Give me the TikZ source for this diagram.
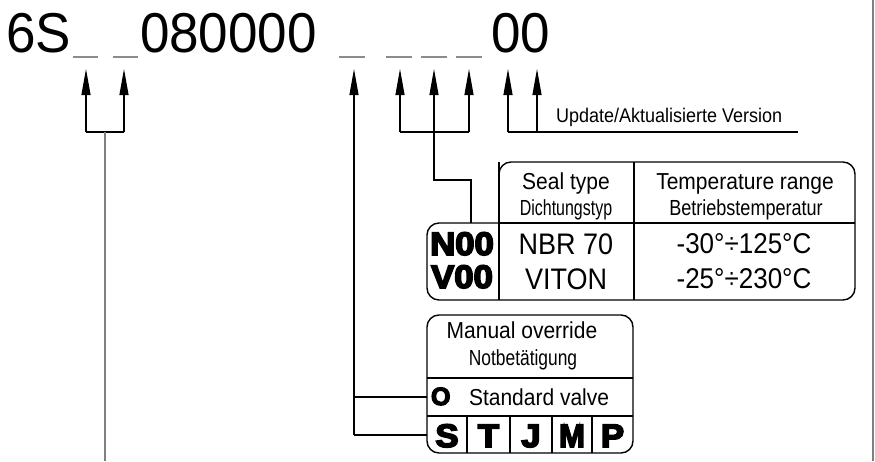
\documentclass[tikz,border=0pt]{standalone}
\usepackage{graphicx}
\usepackage{fontspec}
\setmainfont{Liberation Sans}
\newfontfamily\heavy[FakeBold=5]{Liberation Sans Bold}
\usetikzlibrary{arrows.meta}
\newcommand\fsz[1]{\fontsize{#1}{#1}\selectfont}
\newcommand\nscale[2]{\scalebox{#1}[1.15]{#2}}
\newcommand\vst[1]{\scalebox{1}[1.1]{#1}}
\begin{document}
\begin{tikzpicture}[x=1pt,y=-1pt,
  txt/.style={inner sep=0pt, outer sep=0pt, anchor=base},
  txtw/.style={inner sep=0pt, outer sep=0pt, anchor=base west},
  uline/.style={draw=gray!90, line width=2.2pt},
  gline/.style={draw=gray, line width=1.6pt},
  conn/.style={draw=black, line width=1.1pt},
  arr/.style={draw=black, line width=1.1pt, -{Triangle[length=26pt,width=9pt]}},
  boxline/.style={draw=black, line width=1.4pt, line join=round}]
\useasboundingbox (0,0) rectangle (875,461);
\fill[white] (0,0) rectangle (875,461);

% ---- top code text ----
\node[txtw] (p6s) at (6,52) {\fsz{53}\scalebox{1}[1.06]{6S}};
\node[txtw] (p08) at (140,52) {\fsz{53}\scalebox{1}[1.06]{080000}};
\node[txtw] (p00) at (491,52) {\fsz{53}\scalebox{1}[1.06]{00}};

% underscore marks
\coordinate (u1a) at (73,57);  \coordinate (u1b) at (98,57);
\coordinate (u2a) at (113,57); \coordinate (u2b) at (138,57);
\coordinate (u3a) at (339,57); \coordinate (u3b) at (365,57);
\coordinate (u4a) at (386,57); \coordinate (u4b) at (412,57);
\coordinate (u5a) at (421,57); \coordinate (u5b) at (447,57);
\coordinate (u6a) at (456,57); \coordinate (u6b) at (482,57);
\foreach \i in {1,...,6} {\draw[uline] (u\i a) -- (u\i b);}

% arrow tips and bracket points
\coordinate (t1) at (86,69);  \coordinate (k1) at (86,132);
\coordinate (t2) at (124,69); \coordinate (k2) at (124,132);
\coordinate (s1) at (105,132); \coordinate (s1e) at (105,461);
\coordinate (t3) at (354,69); \coordinate (k3) at (354,435); \coordinate (k3b) at (354,397);
\coordinate (t4) at (400,69); \coordinate (k4) at (400,132);
\coordinate (t5) at (434,69); \coordinate (k5) at (434,132);
\coordinate (t6) at (469,69); \coordinate (k6) at (469,132);
\coordinate (j1) at (471,180); \coordinate (j2) at (471,223);
\coordinate (t7) at (508,69); \coordinate (k7) at (508,132);
\coordinate (t8) at (537,69); \coordinate (k8) at (537,132);
\coordinate (ue) at (798,132);
\coordinate (re1) at (873,0); \coordinate (re2) at (873,461);
\coordinate (moO) at (427,397); \coordinate (moS) at (427,435);

% left pair
\draw[arr] (k1) -- (t1);
\draw[arr] (k2) -- (t2);
\draw[conn] (k1) -- (k2);
\draw[gline] (s1) -- (s1e);

% manual override
\draw[arr] (k3) -- (t3);
\draw[conn] (k3b) -- (moO);
\draw[conn] (k3) -- (moS);

% seal triple
\draw[arr] (k4) -- (t4);
\draw[arr] (k5) -- (t5);
\draw[arr] (k6) -- (t6);
\draw[conn] (k4) -- (k6);
\draw[conn] (k5) |- (j1) -- (j2);

% update pair
\draw[arr] (k7) -- (t7);
\draw[arr] (k8) -- (t8);
\draw[conn] (k7) -- (ue);
\node[txtw] (upd) at (556,122) {\fsz{18}\vst{Update/Aktualisierte Version}};

% right edge
\draw[gline] (re1) -- (re2);

% ---- seal table ----
\draw[boxline, rounded corners=12] (499,223) -- (499,162) -- (855,162) -- (855,300) -- (427,300) -- (427,223) -- (499,223);
\draw[boxline] (499,223) -- (855,223);
\draw[boxline] (499,162) -- (499,300);
\draw[boxline] (634,162) -- (634,300);

\node[txt] (hseal) at (566,189) {\fsz{21}\vst{Seal type}};
\node[txt] (hseal2) at (566,215) {\fsz{19}\nscale{0.84}{Dichtungstyp}};
\node[txt] (htemp) at (745,189) {\fsz{21}\vst{Temperature range}};
\node[txt] (htemp2) at (746,215) {\fsz{19}\nscale{0.95}{Betriebstemperatur}};

\node[txt] (cN) at (462,255) {\fsz{31}\heavy\scalebox{1.12}[1.05]{N00}};
\node[txt] (cV) at (462,288) {\fsz{31}\heavy\scalebox{1.12}[1.05]{V00}};
\node[txt] (sN) at (566,254) {\fsz{27}\vst{NBR 70}};
\node[txt] (sV) at (566,289) {\fsz{27}\vst{VITON}};
\node[txt] (rN) at (744,253) {\fsz{26}\vst{-30°÷125°C}};
\node[txt] (rV) at (744,288) {\fsz{26}\vst{-25°÷230°C}};

% ---- manual override box ----
\draw[boxline, rounded corners=12] (427,315) rectangle (633,453);
\draw[boxline] (427,378) -- (633,378);
\draw[boxline] (427,416) -- (633,416);
\foreach \xx in {467,510,552,592} {\draw[boxline] (\xx,416) -- (\xx,453);}

\node[txt] (mo1) at (522,338) {\fsz{21}\vst{Manual override}};
\node[txt] (mo2) at (523,365) {\fsz{19}\nscale{0.915}{Notbetätigung}};
\node[txtw] (oO) at (431,405) {\fsz{25}\heavy O};
\node[txtw] (oStd) at (469,405) {\fsz{21}\vst{Standard valve}};

\node[txt] (cS) at (447,447) {\fsz{31}\heavy\scalebox{1.12}[1.05]{S}};
\node[txt] (cT) at (488.5,447) {\fsz{31}\heavy\scalebox{1.12}[1.05]{T}};
\node[txt] (cJ) at (531,447) {\fsz{31}\heavy\scalebox{1.12}[1.05]{J}};
\node[txt] (cM) at (572,447) {\fsz{31}\heavy\scalebox{1.0}[1.05]{M}};
\node[txt] (cP) at (612.5,447) {\fsz{31}\heavy\scalebox{1.12}[1.05]{P}};
\end{tikzpicture}
\end{document}
